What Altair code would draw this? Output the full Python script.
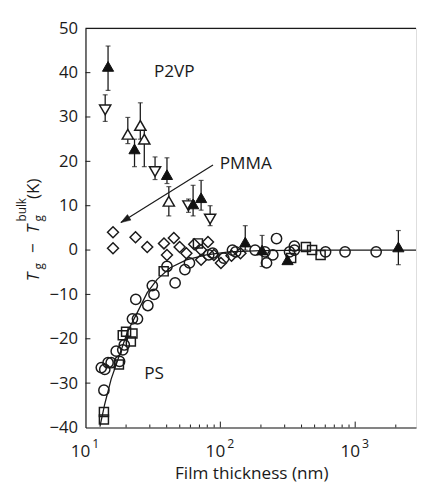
import altair as alt
import pandas as pd

W, H = 337, 407
FONT = "Open Sans"
INK = "#1a1a1a"

# ---- data (film thickness nm, Tg - Tg_bulk K) ----
# P2VP filled up-triangles with error bars
p2vp_a_x = [14.7, 23.1, 40.2, 62.8, 72, 153, 204, 315, 2090]
p2vp_a_y = [41.4, 22.8, 17.0, 10.4, 11.8, 1.8, 0.0, -2.2, 0.7]
p2vp_a_lo = [36.0, 18.8, 15.0, 7.7, 9.0, 0.0, -3.7, -3.0, -3.3]
p2vp_a_hi = [46.0, 25.0, 20.8, 14.6, 15.7, 5.5, 3.3, -1.5, 4.4]
# P2VP open up-triangles
p2vp_b_x = [20.6, 25.5, 27.3, 41.5]
p2vp_b_y = [26.1, 28.1, 25.0, 11.0]
p2vp_b_lo = [24.0, 25.0, 18.8, 7.7]
p2vp_b_hi = [29.9, 33.2, 27.0, 14.3]
# P2VP open down-triangles
p2vp_c_x = [14.0, 32.8, 58, 84]
p2vp_c_y = [31.6, 17.7, 10.0, 7.0]
p2vp_c_lo = [29.0, 15.9, 8.5, 5.5]
p2vp_c_hi = [35.0, 21.0, 11.5, 10.0]
# PMMA open diamonds
pmma_x = [16, 16, 23.5, 28.7, 38.2, 40.2, 45.2, 49.9, 56, 64, 72, 81, 89.6, 101, 72, 121, 141]
pmma_y = [4.0, 0.4, 2.9, 0.7, 1.5, -1.1, 2.7, 0.7, -0.7, 1.3, 0.0, 1.8, -1.1, -2.9, -2.2, -1.3, -0.7]
# PS open circles
ps_c_x = [13.9, 13.7, 13.1, 15.5, 14.7, 16.9, 17.9, 18.9, 19.4, 22.3, 24.3, 23.6, 29.0, 31.3,
          32.2, 40.2, 46.2, 54.6, 59, 87.7, 106, 123, 130, 82, 181, 220, 245, 261, 354, 214,
          326, 354, 603, 841, 1430]
ps_c_y = [-26.9, -31.6, -26.5, -25.4, -25.4, -22.8, -25.1, -22.5, -21.4, -15.5, -15.5, -11.1,
          -12.5, -8.0, -10.0, -3.7, -7.4, -4.4, -2.9, -0.7, -1.8, 0.0, -0.4, -1.1, 0.0, -2.9,
          -1.1, 2.6, 0.0, -0.4, -0.4, 0.9, -0.4, -0.4, -0.4]
# PS open squares
ps_s_x = [13.7, 13.7, 17.7, 18.9, 21.7, 22.3, 20.0, 38, 68.2, 335, 431, 554, 479]
ps_s_y = [-36.5, -38.2, -25.8, -19.2, -20.6, -18.8, -18.4, -4.8, 1.5, -1.8, 0.7, -1.1, 0.0]
# PS fitted curve
fit_x = [12.8, 13.9, 15.5, 17.9, 20.5, 24.3, 28.7, 34, 42.5, 56, 78.5, 116, 200, 500, 2825]
fit_y = [-39.8, -34.7, -29.1, -23.6, -18.4, -14.0, -9.6, -6.6, -4.0, -2.2, -1.1, -0.4, -0.15, 0, 0]
# annotations
labels_text = ["P2VP", "PS"]
labels_x = [45.5, 32.3]
labels_y = [40.2, -28.0]
pmma_label = ["PMMA"]
pmma_label_x = [99]
pmma_label_y = [19.4]
arrow_x = [88.2, 18.3]
arrow_y = [19.2, 6.2]
# axis ticks and labels
x_major = [100, 1000]
x_minor = [20, 30, 40, 50, 60, 70, 80, 90, 200, 300, 400, 500, 600, 700, 800, 900, 2000]
x_label_at = [10, 100, 1000]
x_label_base = ["10", "10", "10"]
x_label_exp = ["1", "2", "3"]
x_title = "Film thickness (nm)"
y_ticks = [-30, -20, -10, 0, 10, 20, 30, 40]

xs = alt.Scale(type="log", domain=[10, 2825], nice=False)
ys = alt.Scale(domain=[-40, 50], nice=False)

x_axis = alt.Axis(values=[10, 100, 1000], labels=False, ticks=False, grid=False,
                  domainColor=INK, domainWidth=1.2, title=None)
y_axis = alt.Axis(values=list(range(-40, 51, 10)), format="d", ticks=False, grid=False,
                  domainColor=INK, domainWidth=1.2, labelFont=FONT, labelFontSize=17,
                  labelColor=INK, labelPadding=8, labelOverlap=False, title=None)


def X(field="x"):
    return alt.X(f"{field}:Q", scale=xs, axis=x_axis)


def Y(field="y"):
    return alt.Y(f"{field}:Q", scale=ys, axis=y_axis)


def df(x, y):
    return pd.DataFrame({"x": x, "y": y})


def errdf(x, lo, hi):
    return pd.DataFrame({"x": x, "lo": lo, "hi": hi})


def caps(x, lo, hi):
    return pd.DataFrame({"x": list(x) + list(x), "y": list(lo) + list(hi)})


layers = []

# fit line
layers.append(alt.Chart(df(fit_x, fit_y)).mark_line(color=INK, strokeWidth=1.3, clip=True)
              .encode(x=X(), y=Y(), order="x:Q"))

# error bars
for ex, lo, hi in [(p2vp_a_x, p2vp_a_lo, p2vp_a_hi), (p2vp_b_x, p2vp_b_lo, p2vp_b_hi),
                   (p2vp_c_x, p2vp_c_lo, p2vp_c_hi)]:
    layers.append(alt.Chart(errdf(ex, lo, hi)).mark_rule(color=INK, strokeWidth=1.3)
                  .encode(x=X(), y=Y("lo"), y2="hi:Q"))
    layers.append(alt.Chart(caps(ex, lo, hi)).mark_tick(orient="horizontal", color=INK,
                                                        thickness=1.2, size=5)
                  .encode(x=X(), y=Y()))

pt = dict(stroke=INK, strokeWidth=1.5, opacity=1)
layers.append(alt.Chart(df(pmma_x, pmma_y)).mark_point(shape="diamond", size=125, filled=False, **pt)
              .encode(x=X(), y=Y()))
layers.append(alt.Chart(df(ps_c_x, ps_c_y)).mark_point(shape="circle", size=110, filled=False, **pt)
              .encode(x=X(), y=Y()))
layers.append(alt.Chart(df(ps_s_x, ps_s_y)).mark_point(shape="square", size=85, filled=False, **pt)
              .encode(x=X(), y=Y()))
layers.append(alt.Chart(df(p2vp_b_x, p2vp_b_y)).mark_point(shape="triangle-up", size=130,
                                                           fill="white", **pt)
              .encode(x=X(), y=Y()))
layers.append(alt.Chart(df(p2vp_c_x, p2vp_c_y)).mark_point(shape="triangle-down", size=130,
                                                           fill="white", **pt)
              .encode(x=X(), y=Y()))
layers.append(alt.Chart(df(p2vp_a_x, p2vp_a_y)).mark_point(shape="triangle-up", size=130,
                                                           filled=True, fill="#111", stroke="#111",
                                                           strokeWidth=1, opacity=1)
              .encode(x=X(), y=Y()))

# inward ticks
layers.append(alt.Chart(pd.DataFrame({"x": x_major})).mark_rule(color=INK, strokeWidth=1)
              .encode(x=X(), y=alt.value(H), y2=alt.value(H - 6)))
layers.append(alt.Chart(pd.DataFrame({"x": x_minor})).mark_rule(color=INK, strokeWidth=1)
              .encode(x=X(), y=alt.value(H), y2=alt.value(H - 3)))
layers.append(alt.Chart(pd.DataFrame({"y": y_ticks})).mark_rule(color=INK, strokeWidth=1)
              .encode(y=Y(), x=alt.value(0), x2=alt.value(5)))
# top frame line
layers.append(alt.Chart(pd.DataFrame({"a": [0]})).mark_rule(color=INK, strokeWidth=1.2)
              .encode(y=alt.value(0), x=alt.value(0), x2=alt.value(W)))

# x tick labels: 10 with superscript exponent
xl = pd.DataFrame({"x": x_label_at, "b": x_label_base, "e": x_label_exp})
layers.append(alt.Chart(xl).mark_text(font=FONT, fontSize=17.5, color=INK, align="right",
                                      baseline="alphabetic", dx=5)
              .encode(x=X(), y=alt.value(H + 30), text="b:N"))
layers.append(alt.Chart(xl).mark_text(font=FONT, fontSize=12.5, color=INK, align="left",
                                      baseline="alphabetic", dx=7)
              .encode(x=X(), y=alt.value(H + 21), text="e:N"))
# x axis title
layers.append(alt.Chart(pd.DataFrame({"a": [0]})).mark_text(text=x_title, font=FONT, fontSize=17.5,
                                                          color=INK, align="center",
                                                          baseline="alphabetic")
              .encode(x=alt.value(W / 2 + 1), y=alt.value(H + 53)))

# annotations
layers.append(alt.Chart(pd.DataFrame({"x": labels_x, "y": labels_y, "t": labels_text}))
              .mark_text(font=FONT, fontSize=17.5, color=INK, align="center", baseline="middle")
              .encode(x=X(), y=Y(), text="t:N"))
layers.append(alt.Chart(pd.DataFrame({"x": pmma_label_x, "y": pmma_label_y, "t": pmma_label}))
              .mark_text(font=FONT, fontSize=17.5, color=INK, align="left", baseline="middle")
              .encode(x=X(), y=Y(), text="t:N"))
layers.append(alt.Chart(df(arrow_x, arrow_y)).mark_line(color=INK, strokeWidth=1.2)
              .encode(x=X(), y=Y(), order="x:Q"))
layers.append(alt.Chart(df(arrow_x[1:], arrow_y[1:]))
              .mark_point(shape="M0,0L-0.33,1L0.33,1Z", size=400, filled=True, fill=INK,
                          stroke=INK, strokeWidth=0.5, opacity=1, angle=238)
              .encode(x=X(), y=Y()))

# y axis title built from pieces (rotated)
one = pd.DataFrame({"a": [0]})
title_pieces = [
    ("T", -47, 258, 17.5, "italic"),
    ("g", -43, 246, 12, "normal"),
    ("−", -47, 229, 17.5, "normal"),
    ("T", -47, 209, 17.5, "italic"),
    ("g", -43, 197, 12, "normal"),
    ("bulk", -61, 197, 12, "normal"),
    ("(K)", -47, 174, 17.5, "normal"),
]
for t, px, py, fs, st in title_pieces:
    layers.append(alt.Chart(one).mark_text(text=t, font=FONT, fontSize=fs, fontStyle=st,
                                           color=INK, angle=270, align="left",
                                           baseline="alphabetic")
                  .encode(x=alt.value(px), y=alt.value(py)))

chart = alt.layer(*layers).properties(
    width=W, height=H, autosize=alt.AutoSizeParams(type="none"),
    padding={"left": 79, "top": 16, "right": 1, "bottom": 56},
).configure_view(stroke=None).configure(background="white")

chart.save("out.html", embed_options={"renderer": "svg", "actions": False})
